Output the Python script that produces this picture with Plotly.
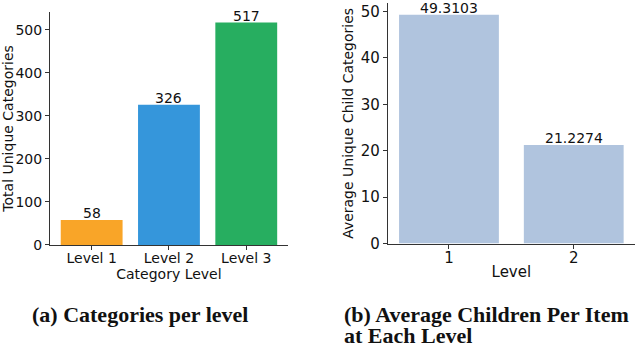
import plotly.graph_objects as go
from plotly.subplots import make_subplots

# data
levels_a = ["Level 1", "Level 2", "Level 3"]
counts_a = [58, 326, 517]
colors_a = ["#F9A528", "#3596DB", "#27AE60"]

levels_b = ["1", "2"]
avg_children_b = [49.3103, 21.2274]

FONT = "DejaVu Sans"
SERIF = "Liberation Serif"
INK = "#111"
H = 358  # the page is photographed a little taller than 348 and squeezed back

fig = make_subplots(rows=1, cols=2)

fig.add_trace(
    go.Bar(
        x=levels_a,
        y=counts_a,
        marker=dict(color=colors_a, line=dict(width=0)),
        width=0.8,
        showlegend=False,
        hoverinfo="x+y",
    ),
    row=1,
    col=1,
)
fig.add_trace(
    go.Bar(
        x=levels_b,
        y=avg_children_b,
        marker=dict(color="#B0C4DE", line=dict(width=0)),
        width=0.8,
        showlegend=False,
        hoverinfo="x+y",
    ),
    row=1,
    col=2,
)

# value labels sitting right on the bars (x given as category index)
for i, v in enumerate(counts_a):
    fig.add_annotation(x=i, y=v, xref="x", yref="y", text=str(v), showarrow=False,
                       yanchor="bottom", yshift=-3, font=dict(family=FONT, size=14, color=INK))
for i, v in enumerate(avg_children_b):
    fig.add_annotation(x=i, y=v, xref="x2", yref="y2", text=f"{v:.4f}", showarrow=False,
                       yanchor="bottom", yshift=-3, font=dict(family=FONT, size=14, color=INK))

axis_style = dict(
    showgrid=False,
    zeroline=False,
    showline=True,
    linecolor="#333",
    linewidth=1,
    ticks="outside",
    ticklen=4,
    tickcolor="#333",
)

fig.update_xaxes(axis_style, type="category", ticklabelstandoff=-4)
fig.update_yaxes(axis_style)

fig.update_layout(
    width=640,
    height=H,
    autosize=False,
    margin=dict(l=0, r=0, t=0, b=0),
    plot_bgcolor="white",
    paper_bgcolor="white",
    font=dict(family=FONT, size=14, color=INK),
    xaxis=dict(
        domain=[0.078, 0.45],
        range=[-0.54, 2.54],
        tickfont=dict(size=14),
        title=dict(text="Category Level", font=dict(size=14), standoff=0),
    ),
    yaxis=dict(
        domain=[0.298, 0.966],
        range=[0, 542],
        tickvals=[0, 100, 200, 300, 400, 500],
        tickfont=dict(size=14),
        title=dict(text="Total Unique Categories", font=dict(size=14), standoff=3),
    ),
    xaxis2=dict(
        domain=[0.606, 0.992],
        range=[-0.49, 1.49],
        tickfont=dict(size=15),
        title=dict(text="Level", font=dict(size=15), standoff=0),
    ),
    yaxis2=dict(
        domain=[0.302, 0.991],
        range=[0, 51.8],
        tickvals=[0, 10, 20, 30, 40, 50],
        tickfont=dict(size=15),
        title=dict(text="Average Unique Child Categories", font=dict(size=14), standoff=3),
    ),
)

captions = [
    ("<b>(a) Categories per level</b>", 140, 314, "center"),
    ("<b>(b) Average Children Per Item</b>", 342, 314, "left"),
    ("<b>at Each Level</b>", 342, 335, "left"),
]
for text, px_x, px_y, anchor in captions:
    fig.add_annotation(
        text=text,
        xref="paper", yref="paper",
        x=px_x / 640, y=1 - px_y / 348,
        xanchor=anchor, yanchor="middle",
        showarrow=False,
        font=dict(family=SERIF, size=22, color=INK),
    )

fig.write_html(
    "out.html",
    config={"displayModeBar": False, "responsive": False},
    post_script="document.body.style.margin='0';",
)
